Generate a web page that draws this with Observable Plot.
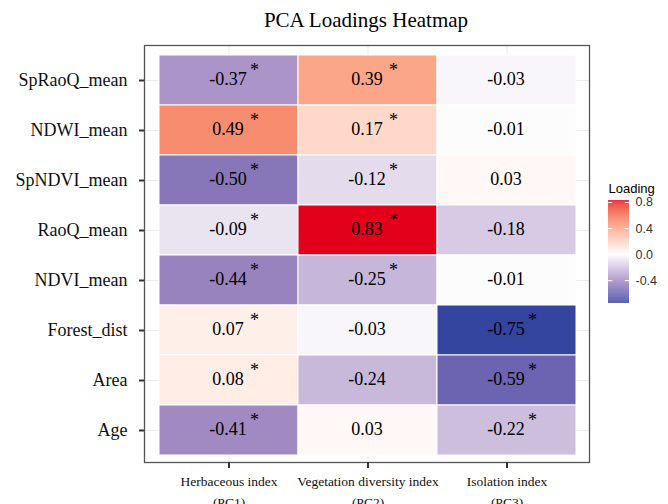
<!DOCTYPE html>
<html><head><meta charset="utf-8">
<script src="https://cdn.jsdelivr.net/npm/d3@7"></script>
<script src="https://cdn.jsdelivr.net/npm/@observablehq/plot@0.6"></script>
<style>
body{margin:0;background:#fff;}
#wrap{position:relative;width:668px;height:504px;overflow:hidden;background:#fff;}
#title{position:absolute;top:10px;left:366px;transform:translateX(-50%);font-family:"Liberation Serif",serif;font-size:21px;line-height:21px;white-space:nowrap;color:#000;}
#wrap svg{position:absolute;left:0;top:0;overflow:visible;}
</style></head><body><div id="wrap"><div id="title">PCA Loadings Heatmap</div></div>
<script>
const variables = ["SpRaoQ_mean","NDWI_mean","SpNDVI_mean","RaoQ_mean","NDVI_mean","Forest_dist","Area","Age"];
const components = ["Herbaceous index\n(PC1)","Vegetation diversity index\n(PC2)","Isolation index\n(PC3)"];
const pc1 = [-0.37, 0.49, -0.50, -0.09, -0.44, 0.07, 0.08, -0.41];
const pc2 = [0.39, 0.17, -0.12, 0.83, -0.25, -0.03, -0.24, 0.03];
const pc3 = [-0.03, -0.01, 0.03, -0.18, -0.01, -0.75, -0.59, -0.22];
const sig1 = [1, 1, 1, 1, 1, 1, 1, 1];
const sig2 = [1, 1, 1, 1, 1, 0, 0, 0];
const sig3 = [0, 0, 0, 0, 0, 1, 1, 1];
const legendTicks = [-0.4, 0.0, 0.4, 0.8];

const series = [pc1, pc2, pc3], sigs = [sig1, sig2, sig3];
const data = [];
components.forEach((c, j) => variables.forEach((v, i) => data.push({comp: c, variable: v, value: series[j][i], sig: sigs[j][i]})));
const vmin = d3.min(data, d => d.value), vmax = d3.max(data, d => d.value);
const colorScale = {
  type: "linear",
  domain: [vmin, -0.40, 0, 0.40, vmax],
  range: ["#3445a0", "#a48cc3", "#ffffff", "#fba486", "#e3001b"],
  interpolate: "lab"
};
const fmt = v => v.toFixed(2);
const serif = "Liberation Serif, Times New Roman, serif";
const sans = "Liberation Sans, Arial, sans-serif";

const main = Plot.plot({
  width: 668, height: 504,
  marginTop: 45, marginBottom: 42, marginLeft: 144, marginRight: 79,
  style: {fontFamily: serif, background: "transparent"},
  x: {type: "band", domain: components, range: [158.3, 576.7], padding: 0, label: null},
  y: {type: "band", domain: variables, range: [52, 457], padding: 0, label: null},
  color: colorScale,
  marks: [
    Plot.gridX({stroke: "#ebebeb", strokeOpacity: 1, strokeWidth: 1}),
    Plot.gridY({stroke: "#ebebeb", strokeOpacity: 1, strokeWidth: 1}),
    Plot.cell(data, {x: "comp", y: "variable", fill: "value", stroke: "white", strokeWidth: 1}),
    Plot.text(data, {x: "comp", y: "variable", text: d => fmt(d.value), fontSize: 18, fontFamily: serif, fill: "#000", dx: -1, dy: -1}),
    Plot.text(data.filter(d => d.sig), {x: "comp", y: "variable", text: () => "*", fontSize: 18, fontFamily: serif, fill: "#000", dx: 25.5, dy: -10}),
    Plot.frame({stroke: "#555", strokeWidth: 1.3}),
    Plot.axisY({tickSize: 5, tickPadding: 12, fontSize: 18, fontFamily: serif, fill: "#111", stroke: "#333", strokeWidth: 2, label: null}),
    Plot.axisX({tickSize: 6, tickPadding: 3, fontSize: 13.5, fontFamily: serif, fill: "#111", stroke: "#333", strokeWidth: 2, lineHeight: 1.55, label: null, tickFormat: d => d})
  ]
});

const step = 0.005;
const slices = d3.range(vmin, vmax, step).map(v => ({y1: v, y2: Math.min(v + step + 0.002, vmax), c: v + step / 2}));
const legend = Plot.plot({
  width: 668, height: 504, margin: 0,
  style: {background: "transparent"},
  x: {domain: [0, 1], range: [608, 629], axis: null},
  y: {domain: [vmin, vmax], range: [303, 200], axis: null},
  color: colorScale,
  marks: [
    Plot.rect(slices, {x1: 0, x2: 1, y1: "y1", y2: "y2", fill: "c"}),
    Plot.ruleY(legendTicks, {y: d => d, x1: 0, x2: 0.2, stroke: "white", strokeWidth: 1}),
    Plot.ruleY(legendTicks, {y: d => d, x1: 0.8, x2: 1, stroke: "white", strokeWidth: 1}),
    Plot.text(legendTicks, {x: 1, y: d => d, text: d => d.toFixed(1), dx: 6, textAnchor: "start", fontSize: 12.5, fontFamily: sans, fill: "#333"}),
    Plot.text(["Loading"], {x: 0, y: () => vmax, text: d => d, dy: -8, textAnchor: "start", lineAnchor: "bottom", fontSize: 13, fontFamily: sans, fill: "#000"})
  ]
});

const wrap = document.getElementById("wrap");
wrap.appendChild(main);
wrap.appendChild(legend);
</script></body></html>
